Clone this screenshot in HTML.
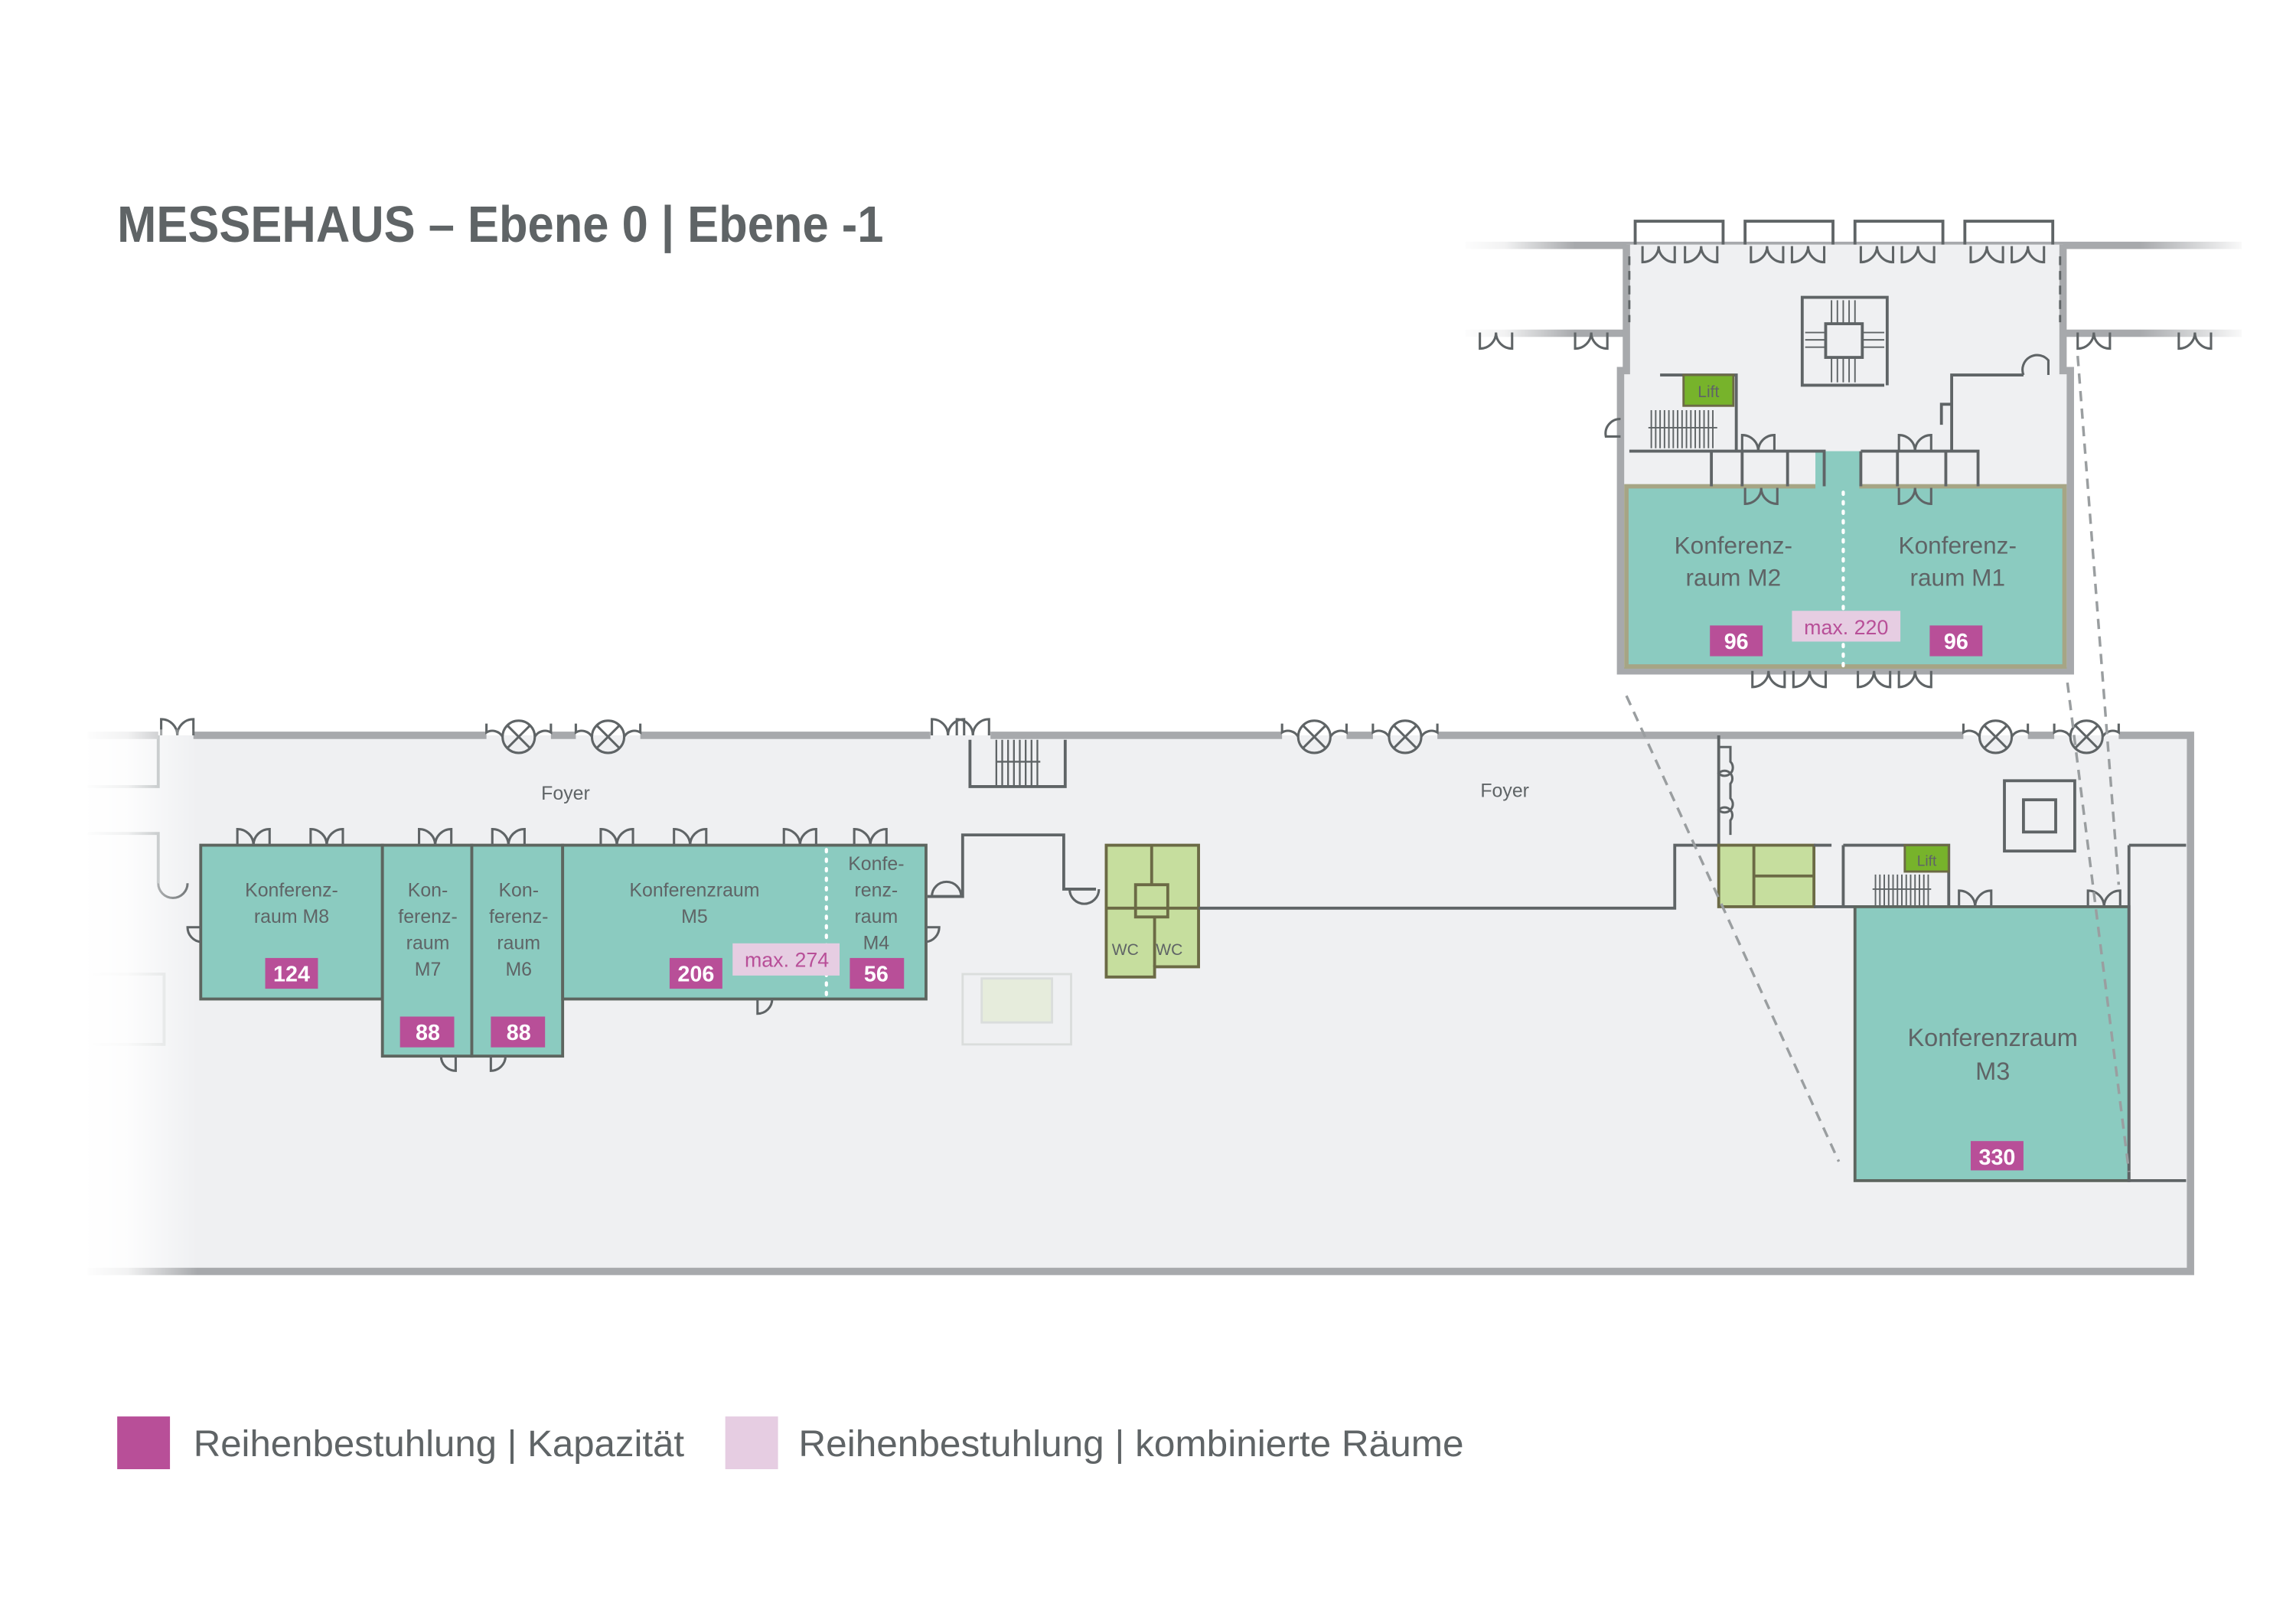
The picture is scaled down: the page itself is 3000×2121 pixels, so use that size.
<!DOCTYPE html>
<html><head><meta charset="utf-8"><style>
html,body{margin:0;padding:0;background:#fff;}
svg{display:block;}
text{font-family:"Liberation Sans",sans-serif;}
</style></head><body>
<svg width="3000" height="2121" viewBox="0 0 1567 1108" preserveAspectRatio="none" xmlns="http://www.w3.org/2000/svg">
<defs>
<linearGradient id="fadeL" x1="0" x2="1" y1="0" y2="0"><stop offset="0" stop-color="#fff" stop-opacity="1"/><stop offset="0.4" stop-color="#fff" stop-opacity="0.85"/><stop offset="1" stop-color="#fff" stop-opacity="0"/></linearGradient>
<linearGradient id="fadeR" x1="0" x2="1" y1="0" y2="0"><stop offset="0" stop-color="#fff" stop-opacity="0"/><stop offset="1" stop-color="#fff" stop-opacity="1"/></linearGradient>
<g id="dd" fill="none" stroke="#5f6466" stroke-width="1.6"><path d="M0,0 V-11 A11,11 0 0 1 11,0 A11,11 0 0 1 22,-11 V0"/></g>
<g id="ddn" fill="none" stroke="#5f6466" stroke-width="1.6"><path d="M0,0 V11 A11,11 0 0 0 11,0 A11,11 0 0 0 22,11 V0"/></g>
<g id="ds" fill="none" stroke="#5f6466" stroke-width="1.6"><path d="M0,0 V-11 A11,11 0 0 1 11,0"/></g>
<g id="rev" fill="none" stroke="#5f6466" stroke-width="1.6"><circle cx="0" cy="0" r="11"/><path d="M-7.8,-7.8 L7.8,7.8 M7.8,-7.8 L-7.8,7.8 M-22,-9 V-3 A8,8 0 0 1 -11,0 M22,-9 V-3 A8,8 0 0 0 11,0"/></g>
</defs>

<text x="80" y="165" font-size="35" font-weight="bold" fill="#5f6466" textLength="523" lengthAdjust="spacingAndGlyphs">MESSEHAUS – Ebene 0 | Ebene -1</text>

<rect x="60" y="502" width="1435" height="366" fill="#eff0f2"/>
<g fill="none" stroke="#9aa0a2" stroke-width="2">
<path d="M60,569 H108 V603"/>
<path d="M60,537 H108 V502"/>
<rect x="62" y="665" width="50" height="48" stroke="#d8dbdb"/>
</g>
<path d="M108,603 A10,10 0 0 0 118,613 A10,10 0 0 0 128,603" fill="none" stroke="#5f6466" stroke-width="1.6"/>
<g stroke="#a7a9ac" stroke-width="5" fill="none">
<path d="M60,502 H108 M132,502 H332 M376,502 H393 M437,502 H635 M676,502 H875 M919,502 H937 M981,502 H1340 M1384,502 H1402 M1446,502 H1495 V868 H60"/>
</g>
<use href="#dd" x="110" y="502"/>
<use href="#rev" x="354" y="503"/>
<use href="#rev" x="415" y="503"/>
<use href="#dd" x="636" y="502"/>
<use href="#dd" x="653" y="502"/>
<use href="#rev" x="897" y="503"/>
<use href="#rev" x="959" y="503"/>
<use href="#rev" x="1362" y="503"/>
<use href="#rev" x="1424" y="503"/>
<rect x="55" y="498" width="80" height="375" fill="url(#fadeL)"/>

<g fill="none" stroke="#5f6466" stroke-width="2">
<path d="M662,505 V537 H727 V505"/>
<path d="M680,505 V537 M684,505 V537 M688,505 V537 M692,505 V537 M696,505 V537 M700,505 V537 M704,505 V537 M708,505 V537 M680,520 H710" stroke-width="1.2"/>
</g>
<g fill="none" stroke="#dadddc" stroke-width="1.5"><rect x="657" y="665" width="74" height="48"/><rect x="670" y="668" width="48" height="30" fill="#e6ecdc"/></g>

<g fill="none" stroke="#5f6466" stroke-width="2">
<path d="M633,612 H657 V570 H726 V607 H748"/>
</g>
<path d="M636,612 A10,10 0 0 1 646,602 M646,602 A10,10 0 0 1 656,612" fill="none" stroke="#5f6466" stroke-width="1.6"/>
<path d="M730,607 A10,10 0 0 0 740,617 A10,10 0 0 0 750,607" fill="none" stroke="#5f6466" stroke-width="1.6"/>

<g stroke="#5d655f" stroke-width="2" fill="#8bcbc0">
<rect x="137" y="577" width="124" height="105"/>
<rect x="261" y="577" width="61" height="144"/>
<rect x="322" y="577" width="62" height="144"/>
<rect x="384" y="577" width="248" height="105"/>
</g>
<line x1="564" y1="580" x2="564" y2="680" stroke="#fff" stroke-width="2.2" stroke-dasharray="1.5,5" stroke-linecap="round"/>
<use href="#dd" x="162" y="577"/><use href="#dd" x="212" y="577"/>
<use href="#dd" x="286" y="577"/><use href="#dd" x="336" y="577"/>
<use href="#dd" x="410" y="577"/><use href="#dd" x="460" y="577"/>
<use href="#dd" x="535" y="577"/><use href="#dd" x="583" y="577"/>
<path d="M137,633 H128 A10,10 0 0 0 137,643" fill="none" stroke="#5f6466" stroke-width="1.6"/>
<path d="M632,633 H641 A10,10 0 0 1 632,643" fill="none" stroke="#5f6466" stroke-width="1.6"/>
<path d="M517,682 V692 A10,10 0 0 0 527,682" fill="none" stroke="#5f6466" stroke-width="1.6"/>
<path d="M311,721 V731 A10,10 0 0 1 301,721 M335,721 V731 A10,10 0 0 0 345,721" fill="none" stroke="#5f6466" stroke-width="1.6"/>

<g font-size="13" fill="#5f6466" text-anchor="middle">
<text x="199" y="612">Konferenz-</text><text x="199" y="630">raum M8</text>
<text x="292" y="612">Kon-</text><text x="292" y="630">ferenz-</text><text x="292" y="648">raum</text><text x="292" y="666">M7</text>
<text x="354" y="612">Kon-</text><text x="354" y="630">ferenz-</text><text x="354" y="648">raum</text><text x="354" y="666">M6</text>
<text x="474" y="612">Konferenzraum</text><text x="474" y="630">M5</text>
<text x="598" y="594">Konfe-</text><text x="598" y="612">renz-</text><text x="598" y="630">raum</text><text x="598" y="648">M4</text>
<text x="386" y="546">Foyer</text>
<text x="1027" y="544">Foyer</text>
</g>
<g fill="#b84f98">
<rect x="181" y="654" width="36" height="21"/>
<rect x="273" y="694" width="37" height="21"/>
<rect x="335" y="694" width="37" height="21"/>
<rect x="457" y="654" width="36" height="21"/>
<rect x="580" y="654" width="37" height="21"/>
<rect x="1345" y="779" width="36" height="20"/>
</g>
<rect x="500" y="644" width="73" height="22" fill="#e6cde2"/>
<g font-size="15" font-weight="bold" fill="#fff" text-anchor="middle">
<text x="199" y="670">124</text><text x="292" y="710">88</text><text x="354" y="710">88</text>
<text x="475" y="670">206</text><text x="598" y="670">56</text><text x="1363" y="795">330</text>
</g>
<g font-size="14" fill="#b84f98" text-anchor="middle">
<text x="537" y="660">max. 274</text>
</g>

<g stroke="#6b6a45" stroke-width="2" fill="#c6de9e">
<path d="M755,577 H818 V660 H788 V667 H755 Z"/>
</g>
<g stroke="#6b6a45" stroke-width="2" fill="none">
<path d="M786,577 V604 M775,604 H797 V626 H775 Z M755,620 H818 M788,626 V660"/>
</g>
<path d="M818,620 H1143 V577 H1173 M1173,502 V577" fill="none" stroke="#5f6466" stroke-width="2"/>
<path d="M1173,510 H1181 V520 A5,5 0 0 1 1173,528 A5,5 0 0 1 1181,535 V545 A5,5 0 0 1 1173,553 A5,5 0 0 1 1181,560 V570" fill="none" stroke="#5f6466" stroke-width="1.6"/>
<g font-size="11" fill="#5f6466" text-anchor="middle"><text x="768" y="652">WC</text><text x="798" y="652">WC</text><text x="1213" y="591">WC</text><text x="1215" y="613">WC</text></g>

<g stroke="#6b6a45" stroke-width="2" fill="#c6de9e">
<rect x="1173" y="577" width="65" height="42"/>
</g>
<path d="M1197,577 V619 M1197,598 H1238" stroke="#6b6a45" stroke-width="2" fill="none"/>
<path d="M1238,619 H1266 M1238,577 H1250 M1258,577 V619 M1258,577 H1330 V619" stroke="#5f6466" stroke-width="2" fill="none"/>
<rect x="1300" y="577" width="30" height="18" fill="#77b32b" stroke="#6b6a45" stroke-width="1.5"/>
<text x="1315" y="591" font-size="10" fill="#5f6466" text-anchor="middle">Lift</text>
<g stroke="#5f6466" stroke-width="1" fill="none"><path d="M1280,597 V619 M1283,597 V619 M1286,597 V619 M1289,597 V619 M1292,597 V619 M1295,597 V619 M1298,597 V619 M1301,597 V619 M1304,597 V619 M1307,597 V619 M1310,597 V619 M1313,597 V619 M1316,597 V619 M1278,607 H1318"/></g>

<g fill="none" stroke="#5f6466" stroke-width="2">
<rect x="1368" y="533" width="48" height="48"/>
<rect x="1381" y="546" width="22" height="22"/>
</g>

<rect x="1266" y="619" width="187" height="187" fill="#8bcbc0" stroke="#5d655f" stroke-width="2"/>
<path d="M1453,577 H1492 M1453,577 V806 H1492" fill="none" stroke="#5f6466" stroke-width="2"/>
<use href="#dd" x="1337" y="619"/>
<use href="#dd" x="1425" y="619"/>
<g font-size="17" fill="#5f6466" text-anchor="middle"><text x="1360" y="714">Konferenzraum</text><text x="1360" y="737">M3</text></g>
<rect x="1345" y="779" width="36" height="20" fill="#b84f98"/>
<text x="1363" y="795" font-size="15" font-weight="bold" fill="#fff" text-anchor="middle">330</text>

<rect x="1000" y="165" width="530" height="5" fill="#a7a9ac"/>
<rect x="1000" y="225" width="115" height="5" fill="#a7a9ac"/>
<rect x="1405" y="225" width="125" height="5" fill="#a7a9ac"/>
<rect x="995" y="160" width="80" height="75" fill="url(#fadeL)"/>
<rect x="1460" y="160" width="75" height="75" fill="url(#fadeR)"/>
<use href="#ddn" x="1010" y="227"/><use href="#ddn" x="1075" y="227"/>
<use href="#ddn" x="1418" y="227"/><use href="#ddn" x="1487" y="227"/>
<rect x="1113" y="170" width="292" height="85" fill="#eff0f2"/>
<path d="M1110,167 V253 H1106 V458 H1413 V253 H1408 V167" fill="#eff0f2" stroke="#a7a9ac" stroke-width="5"/>
<rect x="1110" y="332" width="299" height="123" fill="#8bcbc0" stroke="#a6a585" stroke-width="3"/>
<line x1="1258" y1="310" x2="1258" y2="455" stroke="#fff" stroke-width="2.2" stroke-dasharray="1.5,5" stroke-linecap="round"/>
<rect x="1239" y="308" width="30" height="26" fill="#8bcbc0"/>
<g fill="none" stroke="#5f6466" stroke-width="2">
<path d="M1116,167 V151 H1176 V167 M1191,167 V151 H1251 V167 M1266,167 V151 H1326 V167 M1341,167 V151 H1401 V167"/>
</g>
<g>
<use href="#ddn" x="1121" y="168"/><use href="#ddn" x="1150" y="168"/>
<use href="#ddn" x="1195" y="168"/><use href="#ddn" x="1223" y="168"/>
<use href="#ddn" x="1270" y="168"/><use href="#ddn" x="1298" y="168"/>
<use href="#ddn" x="1345" y="168"/><use href="#ddn" x="1373" y="168"/>
</g>
<path d="M1112,175 V220 M1406,175 V220" stroke="#5f6466" stroke-width="1.5" fill="none" stroke-dasharray="6,4"/>
<g fill="none" stroke="#5f6466" stroke-width="2">
<path d="M1288,263 V203 H1230 V263 H1286"/>
<rect x="1246" y="221" width="25" height="23"/>
<path d="M1250,205 V221 M1254,205 V221 M1258,205 V221 M1262,205 V221 M1266,205 V221 M1250,244 V261 M1254,244 V261 M1258,244 V261 M1262,244 V261 M1266,244 V261 M1232,227 H1246 M1232,232 H1246 M1232,237 H1246 M1271,227 H1286 M1271,232 H1286 M1271,237 H1286" stroke-width="1"/>
</g>
<g fill="none" stroke="#5f6466" stroke-width="2">
<path d="M1133,256 H1185 V308 M1112,308 H1245 V332 M1168,308 V332 M1189,308 V332 M1220,308 V332 M1270,308 V332 H1270 M1270,308 H1350 V332 M1295,308 V332 M1328,308 V332 M1332,308 V256 H1381"/>
<path d="M1332,276 H1325 V290" />
</g>
<rect x="1149" y="256" width="34" height="21" fill="#77b32b" stroke="#6b6a45" stroke-width="1.5"/>
<text x="1166" y="271" font-size="11" fill="#5f6466" text-anchor="middle">Lift</text>
<g stroke="#5f6466" stroke-width="1" fill="none"><path d="M1127,280 V306 M1130,280 V306 M1133,280 V306 M1136,280 V306 M1139,280 V306 M1142,280 V306 M1145,280 V306 M1148,280 V306 M1151,280 V306 M1154,280 V306 M1157,280 V306 M1160,280 V306 M1163,280 V306 M1166,280 V306 M1169,280 V306 M1125,292 H1172"/></g>
<use href="#dd" x="1189" y="308"/><use href="#dd" x="1296" y="308"/>
<use href="#ddn" x="1191" y="333"/><use href="#ddn" x="1296" y="333"/>
<use href="#ddn" x="1196" y="458"/><use href="#ddn" x="1224" y="458"/>
<use href="#ddn" x="1268" y="458"/><use href="#ddn" x="1296" y="458"/>
<path d="M1381,256 A10,10 0 0 1 1398,246 V256" fill="none" stroke="#5f6466" stroke-width="1.6"/>
<path d="M1106,286 A10,10 0 0 0 1096,298 H1106" fill="none" stroke="#5f6466" stroke-width="1.6"/>
<g font-size="16.5" fill="#5f6466" text-anchor="middle">
<text x="1183" y="378">Konferenz-</text><text x="1183" y="400">raum M2</text>
<text x="1336" y="378">Konferenz-</text><text x="1336" y="400">raum M1</text>
</g>
<rect x="1167" y="427" width="36" height="21" fill="#b84f98"/>
<rect x="1317" y="427" width="36" height="21" fill="#b84f98"/>
<rect x="1223" y="417" width="74" height="21" fill="#e6cde2"/>
<g font-size="15" font-weight="bold" fill="#fff" text-anchor="middle">
<text x="1185" y="443">96</text><text x="1335" y="443">96</text>
</g>
<text x="1260" y="433" font-size="14" fill="#b84f98" text-anchor="middle">max. 220</text>

<g stroke="#9a9ea0" stroke-width="1.8" stroke-dasharray="7,5" fill="none">
<line x1="1110" y1="475" x2="1255" y2="793"/>
<line x1="1418" y1="243" x2="1446" y2="604"/>
<line x1="1411" y1="466" x2="1453" y2="800"/>
</g>

<rect x="80" y="967" width="36" height="36" fill="#b84f98"/>
<text x="132" y="994" font-size="25" fill="#5f6466" textLength="335" lengthAdjust="spacingAndGlyphs">Reihenbestuhlung | Kapazität</text>
<rect x="495" y="967" width="36" height="36" fill="#e6cde2"/>
<text x="545" y="994" font-size="25" fill="#5f6466" textLength="454" lengthAdjust="spacingAndGlyphs">Reihenbestuhlung | kombinierte Räume</text>
</svg>
</body></html>
